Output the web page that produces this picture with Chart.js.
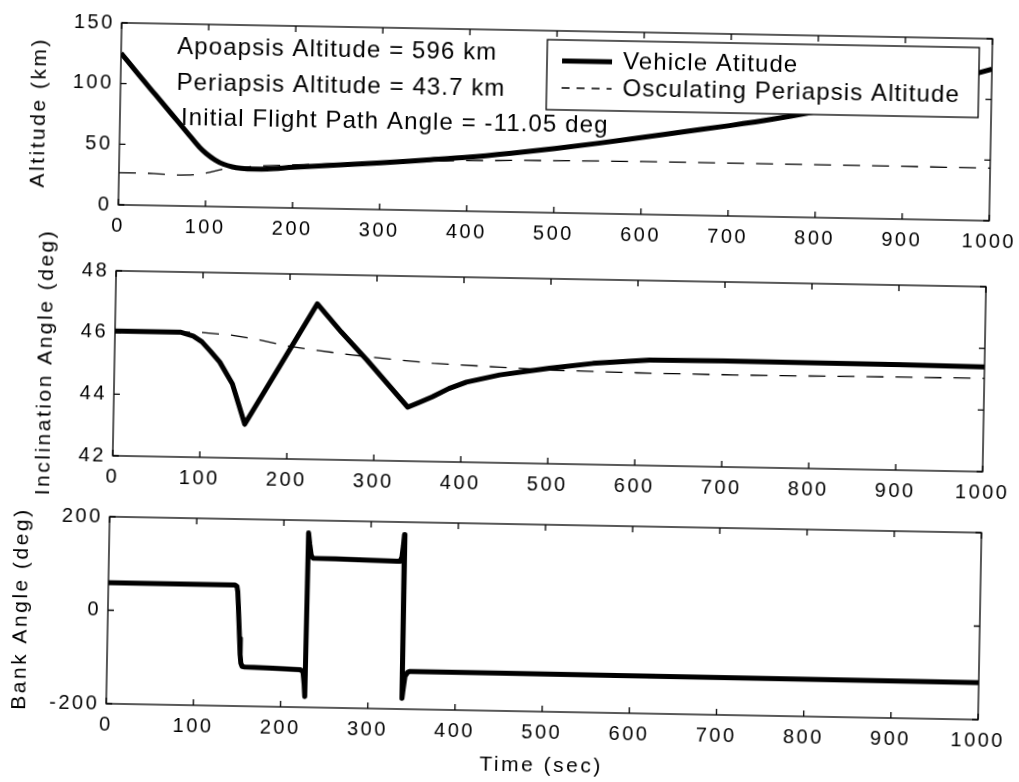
<!DOCTYPE html>
<html>
<head>
<meta charset="utf-8">
<script src="https://cdn.jsdelivr.net/npm/chart.js@4.4.1/dist/chart.umd.min.js"></script>
<style>
html, body { margin: 0; padding: 0; background: #fff; overflow: hidden; }
/* the scanned figure sits about one degree off square */
#fig { position: relative; width: 1019px; height: 782px; transform: rotate(1.05deg); transform-origin: 509px 391px; }
#fig canvas { position: absolute; left: 0; }
</style>
</head>
<body>
<div id="fig">
  <canvas id="c1" width="1019" height="250" style="top:0"></canvas>
  <canvas id="c2" width="1019" height="280" style="top:235px"></canvas>
  <canvas id="c3" width="1019" height="282" style="top:500px"></canvas>
</div>
<script>
// --- data ---
const timeTicks = [0, 100, 200, 300, 400, 500, 600, 700, 800, 900, 1000];

// altitude panel (km)
const altTime = [0, 20, 40, 60, 80, 92, 100, 110, 120, 130, 140, 155, 170, 200, 250, 300, 350, 400, 450, 500, 550, 600, 650, 700, 750, 800, 850, 900, 950, 1000];
const vehicleAlt = [125, 108, 91.5, 75, 58.5, 48.7, 43.5, 38.5, 35, 33, 32, 31.5, 31.7, 33.5, 36, 38.5, 41.5, 44.5, 48.5, 53, 58, 63.5, 69, 74.5, 80.5, 87.5, 95.5, 104.5, 114.5, 125];
const periTime = [0, 40, 70, 85, 100, 120, 140, 160, 200, 250, 300, 350, 400, 450, 500, 600, 700, 800, 900, 1000];
const periAlt = [26.5, 26.3, 25.5, 25.8, 27.5, 31, 32.8, 34, 35.5, 37.2, 38.8, 40.5, 41.7, 42.5, 43, 43.5, 43.6, 43.6, 43.5, 43.4];
const altTicks = [0, 50, 100, 150];

// inclination panel (deg)
const incTime = [0, 75, 90, 100, 110, 121, 136, 151, 190, 232, 260, 290, 338, 350, 366, 385, 405, 443, 500, 550, 615, 700, 788, 900, 1000];
const incVehicle = [46.05, 46.05, 45.93, 45.75, 45.45, 45.1, 44.4, 43.1, 45.0, 47.05, 46.15, 45.26, 43.75, 43.9, 44.1, 44.38, 44.6, 44.85, 45.1, 45.28, 45.42, 45.44, 45.43, 45.42, 45.4];
const incRefTime = [0, 80, 100, 135, 167, 201, 235, 273, 320, 366, 443, 500, 600, 711, 800, 900, 1000];
const incRef = [46.05, 46.05, 46.05, 45.98, 45.84, 45.65, 45.53, 45.41, 45.29, 45.19, 45.1, 45.04, 45.0, 44.99, 45.0, 45.02, 45.03];
const incTicks = [42, 44, 46, 48];

// bank angle panel (deg)
const bankTime = [0, 60, 120, 145, 147.5, 148.5, 149.5, 150.5, 151.5, 152.5, 153.5, 155, 158, 190, 222, 225, 226.5, 227.5, 228.5, 230, 232, 234, 260, 300, 330, 334, 336, 337.5, 338.5, 339, 340, 342, 345, 347, 450, 600, 800, 1000];
const bankAngle = [59, 59, 59, 59, 56, 45, 15, -20, -55, -90, -108, -115, -116, -117.5, -120, -124, -150, -177, 173, 150, 125, 119.5, 118.5, 117, 116, 116, 125, 150, 173, -177, -160, -130, -121, -119.5, -119.5, -120, -120.5, -121];
const bankTicks = [-200, 0, 200];

const notes = ['Apoapsis Altitude = 596 km', 'Periapsis Altitude = 43.7 km', 'Initial Flight Path Angle = -11.05 deg'];
const legendLabels = ['Vehicle Atitude', 'Osculating Periapsis Altitude'];

// --- helpers ---
const FONT = "'Liberation Sans', Arial, Helvetica, sans-serif";
Chart.defaults.font.family = FONT;
Chart.defaults.color = '#000';

const pts = (xs, ys) => xs.map((t, i) => ({ x: t, y: ys[i] }));

// box round the axes with inward ticks on all four sides, MATLAB style
const frame = {
  id: 'frame',
  beforeDraw(chart) { chart.ctx.letterSpacing = '2.5px'; },
  afterDatasetsDraw(chart) {
    const { ctx, chartArea: a, scales: { x, y } } = chart;
    ctx.save();
    ctx.strokeStyle = '#000';
    ctx.lineWidth = 1.3;
    ctx.strokeRect(a.left, a.top, a.right - a.left, a.bottom - a.top);
    ctx.beginPath();
    x.ticks.forEach(t => {
      const p = x.getPixelForValue(t.value);
      ctx.moveTo(p, a.bottom); ctx.lineTo(p, a.bottom - 6);
      ctx.moveTo(p, a.top); ctx.lineTo(p, a.top + 6);
    });
    y.ticks.forEach(t => {
      const p = y.getPixelForValue(t.value);
      ctx.moveTo(a.left, p); ctx.lineTo(a.left + 6, p);
      ctx.moveTo(a.right, p); ctx.lineTo(a.right - 6, p);
    });
    ctx.stroke();
    ctx.restore();
  }
};

// text notes and the boxed legend of the top panel
const notesAndLegend = {
  id: 'notesAndLegend',
  afterDraw(chart) {
    const ctx = chart.ctx;
    ctx.save();
    ctx.letterSpacing = '1.1px';
    ctx.font = '24px ' + FONT;
    ctx.fillStyle = '#000';
    ctx.textBaseline = 'middle';
    ctx.fillText(notes[0], 171, 53);
    ctx.fillText(notes[1], 171, 89);
    ctx.fillText(notes[2], 176, 124);

    ctx.fillStyle = '#fff';
    ctx.fillRect(541, 39, 432, 70);
    ctx.strokeStyle = '#000';
    ctx.lineWidth = 1.3;
    ctx.strokeRect(541, 39, 432, 70);

    ctx.beginPath();
    ctx.lineWidth = 5;
    ctx.moveTo(556, 60); ctx.lineTo(606, 60);
    ctx.stroke();
    ctx.beginPath();
    ctx.lineWidth = 1.3;
    ctx.setLineDash([8, 7]);
    ctx.moveTo(556, 87); ctx.lineTo(606, 87);
    ctx.stroke();
    ctx.setLineDash([]);

    ctx.fillStyle = '#000';
    ctx.fillText(legendLabels[0], 617, 60);
    ctx.fillText(legendLabels[1], 617, 87);
    ctx.restore();
  }
};

function xScale(height, title) {
  return {
    type: 'linear', min: 0, max: 1000,
    afterFit: s => { s.height = height; },
    afterBuildTicks: s => { s.ticks = timeTicks.map(v => ({ value: v })); },
    grid: { display: false, drawTicks: false },
    border: { display: false },
    ticks: { font: { size: 20 }, padding: 9, maxRotation: 0, autoSkip: false, callback: v => String(v) },
    title: title ? { display: true, text: title, font: { size: 21 }, padding: { top: 0, bottom: 4 } } : { display: false }
  };
}

function yScale(width, ticks, title, titlePad) {
  return {
    type: 'linear', min: ticks[0], max: ticks[ticks.length - 1],
    afterFit: s => { s.width = width; },
    afterBuildTicks: s => { s.ticks = ticks.map(v => ({ value: v })); },
    grid: { display: false, drawTicks: false },
    border: { display: false },
    ticks: { font: { size: 20 }, padding: 7, callback: v => String(v) },
    title: { display: true, text: title, font: { size: 21 }, padding: { top: titlePad, bottom: 0 } }
  };
}

function baseOptions(padTop, padRight, xs, ys) {
  return {
    responsive: false,
    animation: false,
    devicePixelRatio: 1,
    layout: { padding: { top: padTop, right: padRight, left: 0, bottom: 0 } },
    plugins: { legend: { display: false }, tooltip: { enabled: false } },
    elements: { point: { radius: 0 } },
    scales: { x: xs, y: ys }
  };
}

const solid = { borderColor: '#000', borderWidth: 5, pointRadius: 0, fill: false, borderJoinStyle: 'round' };
const dashed = { borderColor: '#000', borderWidth: 1.3, pointRadius: 0, fill: false, borderDash: [17, 12] };

new Chart(document.getElementById('c1'), {
  type: 'line',
  data: {
    datasets: [
      { ...solid, label: legendLabels[0], data: pts(altTime, vehicleAlt), cubicInterpolationMode: 'monotone' },
      { ...dashed, label: legendLabels[1], data: pts(periTime, periAlt), cubicInterpolationMode: 'monotone' }
    ]
  },
  options: baseOptions(30, 33, xScale(38), yScale(115, altTicks, 'Altitude (km)', 22)),
  plugins: [frame, notesAndLegend]
});

new Chart(document.getElementById('c2'), {
  type: 'line',
  data: {
    datasets: [
      { ...solid, data: pts(incTime, incVehicle) },
      { ...dashed, data: pts(incRefTime, incRef) }
    ]
  },
  options: baseOptions(43, 35, xScale(52), yScale(114, incTicks, 'Inclination Angle (deg)', 33)),
  plugins: [frame]
});

new Chart(document.getElementById('c3'), {
  type: 'line',
  data: {
    datasets: [
      { ...solid, data: pts(bankTime, bankAngle) }
    ]
  },
  options: baseOptions(24, 35, xScale(71, 'Time (sec)'), yScale(112, bankTicks, 'Bank Angle (deg)', 13)),
  plugins: [frame]
});
</script>
</body>
</html>
